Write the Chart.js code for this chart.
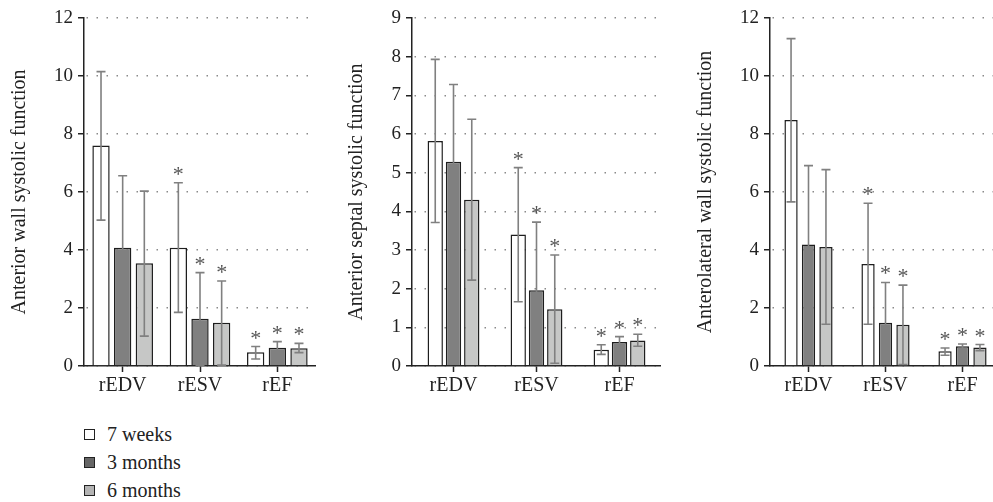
<!DOCTYPE html>
<html>
<head>
<meta charset="utf-8">
<script src="https://cdn.jsdelivr.net/npm/chart.js@4/dist/chart.umd.min.js"></script>
<style>
    body { margin: 0; background: #fff; width: 993px; height: 502px; overflow: hidden; position: relative; }
    canvas { position: absolute; top: 0; }
    .legend { position: absolute; left: 84px; top: 420px; font-family: "Liberation Serif", serif; font-size: 20px; color: #222; }
    .legend div { height: 28px; line-height: 28px; }
    .legend span.box { display: inline-block; width: 9px; height: 9px; border: 1px solid #222; margin-right: 12px; vertical-align: 1px; }
</style>
</head>
<body>
<canvas id="chart1" width="316" height="400" style="left:0px"></canvas>
<canvas id="chart2" width="331" height="400" style="left:330px"></canvas>
<canvas id="chart3" width="341" height="400" style="left:660px"></canvas>
<div class="legend" id="legend"></div>
<script>
// categories and series
var categories = ['rEDV', 'rESV', 'rEF'];
var seriesNames = ['7 weeks', '3 months', '6 months'];
var seriesColors = ['#ffffff', '#808080', '#c6c7c6'];

// anterior wall (rows = series, columns = categories)
var anteriorMean = [[7.60, 4.08, 0.47], [4.08, 1.63, 0.63], [3.54, 1.49, 0.61]];
var anteriorLow = [[5.03, 1.85, 0.24], [1.61, 0.02, 0.41], [1.03, 0.03, 0.46]];
var anteriorHigh = [[10.15, 6.32, 0.67], [6.56, 3.22, 0.84], [6.03, 2.93, 0.78]];

// anterior septal
var septalMean = [[5.82, 3.40, 0.42], [5.28, 1.96, 0.62], [4.30, 1.47, 0.66]];
var septalLow = [[3.71, 1.66, 0.30], [3.28, 0.19, 0.48], [2.22, 0.07, 0.51]];
var septalHigh = [[7.93, 5.13, 0.55], [7.28, 3.72, 0.76], [6.38, 2.87, 0.82]];

// anterolateral wall
var lateralMean = [[8.48, 3.52, 0.51], [4.19, 1.49, 0.68], [4.10, 1.42, 0.64]];
var lateralLow = [[5.66, 1.44, 0.37], [1.47, 0.08, 0.60], [1.44, 0.05, 0.53]];
var lateralHigh = [[11.29, 5.61, 0.62], [6.91, 2.88, 0.76], [6.77, 2.79, 0.74]];

// significance marks per category
var starFlags = [false, true, true];

var serifFont = '"Liberation Serif", serif';
Chart.defaults.font.family = serifFont;
Chart.defaults.color = '#222';

// 误差线和星号
var errorBarPlugin = {
    id: 'errorBars',
    afterDatasetsDraw(chart) {
        var ctx = chart.ctx;
        var yScale = chart.scales.y;
        ctx.save();
        chart.data.datasets.forEach((ds, i) => {
            var meta = chart.getDatasetMeta(i);
            meta.data.forEach((bar, j) => {
                var x = bar.x;
                var top = yScale.getPixelForValue(ds.errHigh[j]);
                var bottom = yScale.getPixelForValue(ds.errLow[j]);
                ctx.strokeStyle = '#808080';
                ctx.lineWidth = 1.6;
                ctx.beginPath();
                ctx.moveTo(x, top);
                ctx.lineTo(x, bottom);
                ctx.moveTo(x - 4.5, top);
                ctx.lineTo(x + 4.5, top);
                ctx.moveTo(x - 4.5, bottom);
                ctx.lineTo(x + 4.5, bottom);
                ctx.stroke();
                if (starFlags[j]) {
                    ctx.fillStyle = '#555';
                    ctx.font = '22px ' + serifFont;
                    ctx.textAlign = 'center';
                    ctx.textBaseline = 'alphabetic';
                    ctx.fillText('*', x, top - 2);
                }
            });
        });
        ctx.restore();
    }
};

function drawPanel(id, title, means, lows, highs, maxY, step, yWidth, titlePad, catPct, barPct) {
    var canvas = document.getElementById(id);
    var datasets = seriesNames.map((name, i) => ({
        label: name,
        data: means[i],
        errLow: lows[i],
        errHigh: highs[i],
        backgroundColor: seriesColors[i],
        borderColor: '#1e1e1e',
        borderWidth: 1.5,
        categoryPercentage: catPct,
        barPercentage: barPct
    }));

    return new Chart(canvas, {
        type: 'bar',
        data: { labels: categories, datasets: datasets },
        plugins: [errorBarPlugin],
        options: {
            responsive: false,
            animation: false,
            devicePixelRatio: 1,
            layout: { padding: { top: 18, right: 0, bottom: 0, left: 0 } },
            plugins: { legend: { display: false }, tooltip: { enabled: false } },
            scales: {
                x: {
                    afterFit: function (scale) { scale.height = 34; },
                    grid: {
                        offset: false,
                        drawOnChartArea: false,
                        drawTicks: true,
                        tickLength: 6,
                        tickColor: '#222',
                        tickWidth: 1.5
                    },
                    border: { display: true, color: '#222', width: 1.5 },
                    ticks: { color: '#222', padding: 2, font: { family: serifFont, size: 20 } }
                },
                y: {
                    min: 0,
                    max: maxY,
                    afterFit: function (scale) { scale.width = yWidth; },
                    grid: {
                        color: '#8a8a8a',
                        lineWidth: 1.5,
                        tickBorderDash: [],
                        tickLength: 6,
                        tickColor: '#222',
                        tickWidth: 1.5
                    },
                    border: { display: true, color: '#222', width: 1.5, dash: [1.5, 8.5], dashOffset: -12 },
                    ticks: { stepSize: step, color: '#222', padding: 5, font: { family: serifFont, size: 19 } },
                    title: {
                        display: true,
                        text: title,
                        color: '#222',
                        padding: { top: titlePad, bottom: 0 },
                        font: { family: serifFont, size: 20 }
                    }
                }
            }
        }
    });
}

function drawAll() {
    drawPanel('chart1', 'Anterior wall systolic function', anteriorMean, anteriorLow, anteriorHigh, 12, 2, 84, 8, 0.84, 0.8);
    drawPanel('chart2', 'Anterior septal systolic function', septalMean, septalLow, septalHigh, 9, 1, 82, 15, 0.66, 0.84);
    drawPanel('chart3', 'Anterolateral wall systolic function', lateralMean, lateralLow, lateralHigh, 12, 2, 110, 34, 0.68, 0.76);
}

// legend
var legendDiv = document.getElementById('legend');
seriesNames.forEach((name, i) => {
    var row = document.createElement('div');
    var box = document.createElement('span');
    box.className = 'box';
    box.style.background = i === 1 ? '#666' : (i === 2 ? '#b4b4b4' : '#fff');
    row.appendChild(box);
    row.appendChild(document.createTextNode(name));
    legendDiv.appendChild(row);
});

// 等字体加载完再画
document.fonts.load('20px "Liberation Serif"').then(drawAll, drawAll);
</script>
</body>
</html>
